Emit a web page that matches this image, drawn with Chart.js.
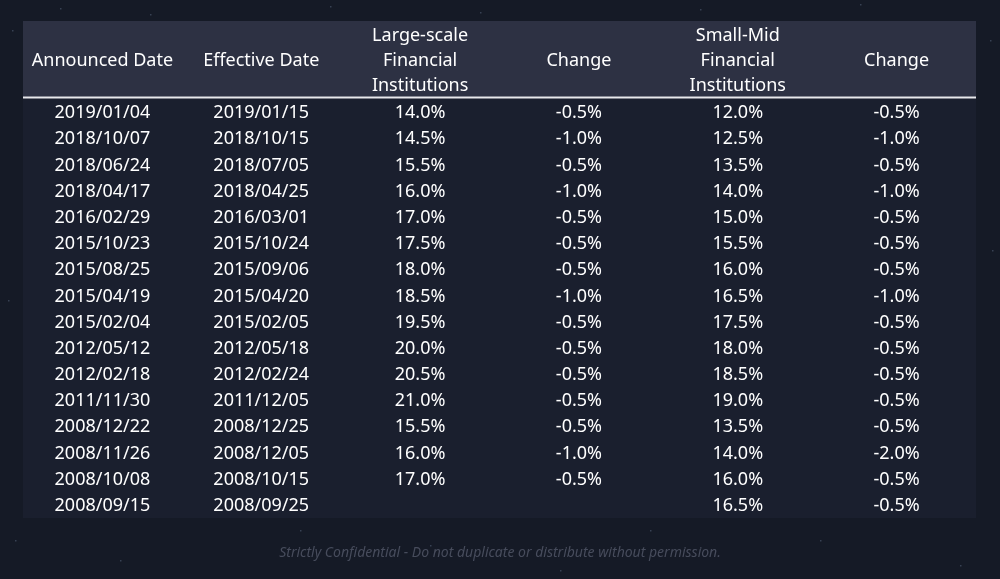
<!DOCTYPE html>
<html><head><meta charset="utf-8">
<script src="https://cdn.jsdelivr.net/npm/chart.js@4"></script>
<style>html,body{margin:0;padding:0;background:#151a26;}canvas{display:block;}</style>
</head><body>
<canvas id="c" width="1000" height="579"></canvas>
<script>
const columns = ["Announced Date","Effective Date","Large-scale\nFinancial\nInstitutions","Change","Small-Mid\nFinancial\nInstitutions","Change"];
const announced = ["2019/01/04","2018/10/07","2018/06/24","2018/04/17","2016/02/29","2015/10/23","2015/08/25","2015/04/19","2015/02/04","2012/05/12","2012/02/18","2011/11/30","2008/12/22","2008/11/26","2008/10/08","2008/09/15"];
const effective = ["2019/01/15","2018/10/15","2018/07/05","2018/04/25","2016/03/01","2015/10/24","2015/09/06","2015/04/20","2015/02/05","2012/05/18","2012/02/24","2011/12/05","2008/12/25","2008/12/05","2008/10/15","2008/09/25"];
const largeRate = ["14.0%","14.5%","15.5%","16.0%","17.0%","17.5%","18.0%","18.5%","19.5%","20.0%","20.5%","21.0%","15.5%","16.0%","17.0%",""];
const largeChange = ["-0.5%","-1.0%","-0.5%","-1.0%","-0.5%","-0.5%","-0.5%","-1.0%","-0.5%","-0.5%","-0.5%","-0.5%","-0.5%","-1.0%","-0.5%",""];
const smallRate = ["12.0%","12.5%","13.5%","14.0%","15.0%","15.5%","16.0%","16.5%","17.5%","18.0%","18.5%","19.0%","13.5%","14.0%","16.0%","16.5%"];
const smallChange = ["-0.5%","-1.0%","-0.5%","-1.0%","-0.5%","-0.5%","-0.5%","-1.0%","-0.5%","-0.5%","-0.5%","-0.5%","-0.5%","-2.0%","-0.5%","-0.5%"];
const footer = "Strictly Confidential - Do not duplicate or distribute without permission.";

const tableCols = [announced, effective, largeRate, largeChange, smallRate, smallChange];
const colKeys = columns.map((_, i) => "c" + i);
const rowKeys = announced.map((_, i) => "r" + i);
const points = [];
tableCols.forEach((col, ci) => col.forEach((v, ri) => points.push({x: colKeys[ci], y: rowKeys[ri], t: v})));

const FONT = '"Noto Sans", "Open Sans", sans-serif';
const tablePlugin = {
  id: 'table',
  beforeDraw(chart) {
    const ctx = chart.ctx, a = chart.chartArea;
    ctx.save();
    ctx.fillStyle = '#151a26'; ctx.fillRect(0, 0, chart.width, chart.height);
    ctx.fillStyle = 'rgba(120,140,170,0.35)';
    const stars = [[12,30],[60,8],[150,14],[330,6],[480,12],[700,9],[860,4],[990,40],[8,300],[992,250],[15,540],[120,560],[300,530],[560,570],[820,540],[960,565],[430,545],[650,530]];
    stars.forEach(s => ctx.fillRect(s[0], s[1], 1.5, 1.5));
    ctx.fillStyle = '#2d3143';
    ctx.fillRect(a.left, 21, a.right - a.left, 97 - 21);
    ctx.fillStyle = '#1a1f2e';
    ctx.fillRect(a.left, 97, a.right - a.left, a.bottom - 97);
    ctx.strokeStyle = '#e8e8ec'; ctx.lineWidth = 2;
    ctx.beginPath(); ctx.moveTo(a.left, 97.5); ctx.lineTo(a.right, 97.5); ctx.stroke();
    ctx.restore();
  },
  afterDatasetsDraw(chart) {
    const ctx = chart.ctx, xs = chart.scales.x, ys = chart.scales.y;
    ctx.save();
    ctx.fillStyle = '#ffffff';
    ctx.textAlign = 'center'; ctx.textBaseline = 'middle';
    ctx.font = '18px ' + FONT;
    columns.forEach((c, ci) => {
      const x = xs.getPixelForValue(ci);
      const lines = c.split('\n');
      const start = 61 - (lines.length - 1) * 12.5;
      lines.forEach((l, li) => ctx.fillText(l, x, start + li * 25));
    });
    points.forEach(p => {
      if (!p.t) return;
      const x = xs.getPixelForValue(colKeys.indexOf(p.x));
      const y = ys.getPixelForValue(rowKeys.indexOf(p.y));
      ctx.fillText(p.t, x, y + 1);
    });
    ctx.fillStyle = '#474c5c';
    ctx.font = 'italic 14px ' + FONT;
    ctx.fillText(footer, 500, 553);
    ctx.restore();
  }
};

new Chart(document.getElementById('c'), {
  type: 'scatter',
  data: { datasets: [{ data: points, pointRadius: 0, showLine: false }] },
  options: {
    responsive: false, animation: false,
    layout: { padding: { left: 23, right: 24, top: 99, bottom: 61 } },
    plugins: { legend: { display: false }, tooltip: { enabled: false } },
    scales: {
      x: { type: 'category', labels: colKeys, offset: true, display: false },
      y: { type: 'category', labels: rowKeys, offset: true, display: false }
    }
  },
  plugins: [tablePlugin]
});
</script>
</body></html>
